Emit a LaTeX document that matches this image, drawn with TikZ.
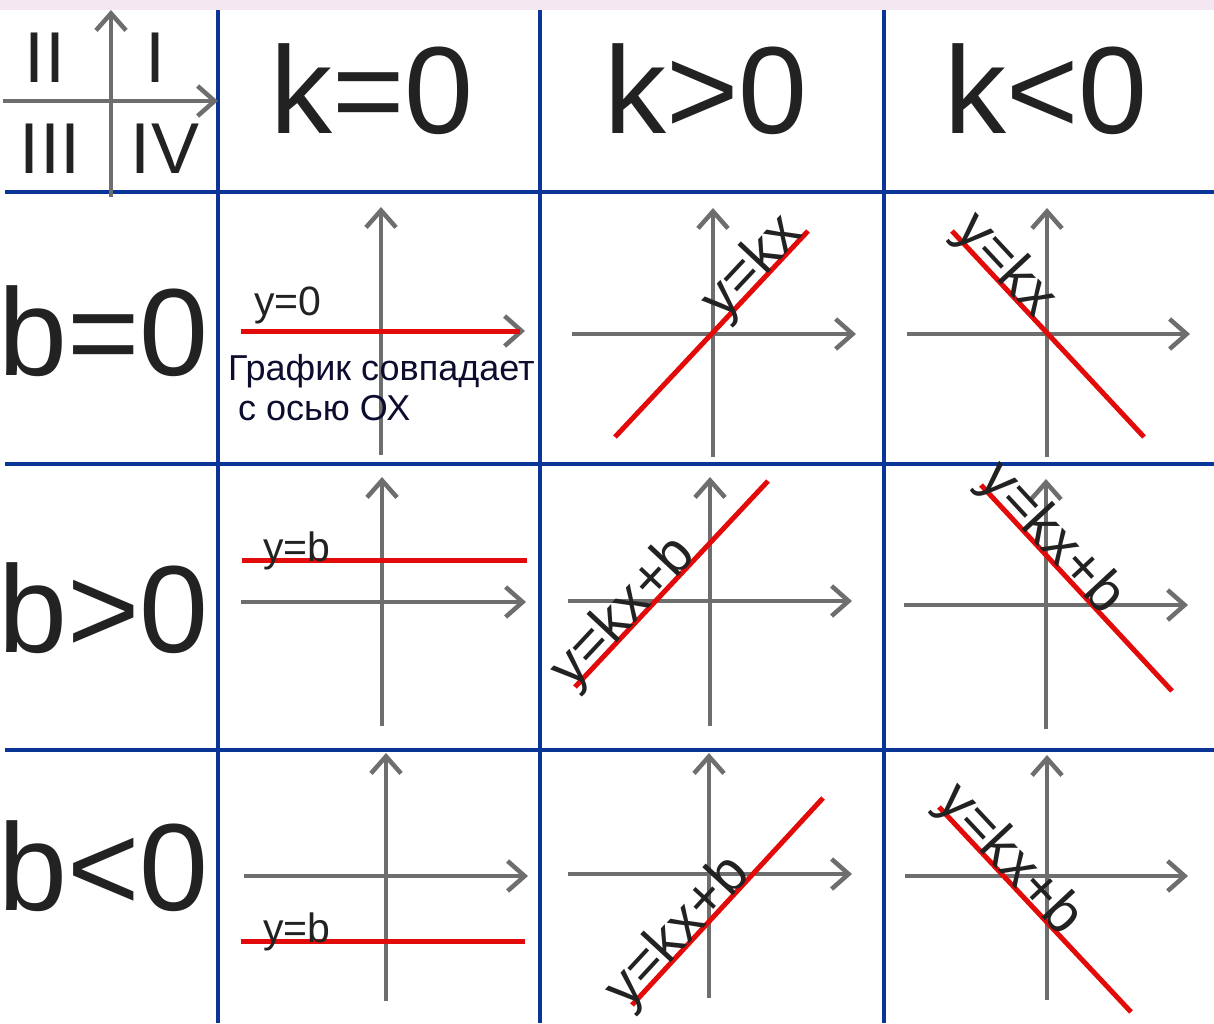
\documentclass[tikz,border=0pt]{standalone}
\usepackage{fontspec}
\setmainfont{Liberation Sans}
\usetikzlibrary{arrows.meta}
\definecolor{ink}{HTML}{222222}
\definecolor{note}{HTML}{0C0C2E}
\definecolor{grid}{HTML}{0A3597}
\definecolor{axis}{HTML}{6E6E6E}
\definecolor{graph}{HTML}{E30A0A}
\definecolor{haze}{HTML}{F4E7F2}
\tikzset{
  every node/.style = {text=ink, inner sep=0pt},
  kbgrid/.style  = {draw=grid, line width=3.5pt},
  kbaxis/.style  = {draw=axis, line width=4pt,
                    -{Straight Barb[length=17pt,width=30pt,line width=4.5pt]}},
  kbline/.style  = {draw=graph, line width=5pt},
  kbhead/.style  = {font=\fontsize{124}{124}\selectfont, anchor=base},
  kbrow/.style   = {font=\fontsize{124}{124}\selectfont, anchor=base west},
  kbquad/.style  = {font=\fontsize{72}{72}\selectfont, anchor=base},
  kbeq/.style    = {font=\fontsize{41}{41}\selectfont, anchor=base west},
  kbslope/.style = {font=\fontsize{57}{57}\selectfont, anchor=base, sloped},
  kbnote/.style  = {font=\fontsize{36}{40}\selectfont, text=note, anchor=base west},
}
% axes of one cell: origin x, origin y, left, right, top, bottom
\newcommand{\kbcross}[6]{%
  \draw[kbaxis] (#3,#2) -- (#4,#2);
  \draw[kbaxis] (#1,#6) -- (#1,#5);}

\begin{document}
\begin{tikzpicture}[x=1pt, y=-1pt]
\useasboundingbox (0,0) rectangle (1214,1023);
\fill[haze] (0,0) rectangle (1214,10);

% table lines
\draw[kbgrid] (218,10) -- (218,1023);
\draw[kbgrid] (540,10) -- (540,1023);
\draw[kbgrid] (884,10) -- (884,1023);
\draw[kbgrid] (5,192) -- (1214,192);
\draw[kbgrid] (5,464) -- (1214,464);
\draw[kbgrid] (5,750) -- (1214,750);

% quadrants
\draw[kbaxis] (3,101) -- (218,101);
\draw[kbaxis] (111,197) -- (111,10);
\node[kbquad] (q2) at (45,82) {II};
\node[kbquad] (q1) at (155,82) {I};
\node[kbquad] (q3) at (50,173) {III};
\node[kbquad] (q4) at (165,173) {IV};

% headers
\node[kbhead] (kzero) at (372,133) {k=0};
\node[kbhead] (kpos)  at (706,133) {k>0};
\node[kbhead] (kneg)  at (1046,133) {k<0};
\node[kbrow] (bzero) at (-2,375) {b=0};
\node[kbrow] (bpos)  at (-2,652) {b>0};
\node[kbrow] (bneg)  at (-2,910) {b<0};

% b=0
\kbcross{381}{331}{241}{525}{207}{455}
\kbcross{713}{334}{572}{856}{208}{457}
\kbcross{1047}{334}{907}{1190}{208}{457}
\draw[kbline] (241,331) -- (520,331);
\node[kbeq] (yzero) at (254,315) {y=0};
\node[kbnote] (note1) at (228,380) {График совпадает};
\node[kbnote] (note2) at (238,420) {с осью ОХ};
\draw[kbline] (615,437) -- (808,231) node[kbslope, pos=0.77] (lab1) {y=kx};
\draw[kbline] (952,231) -- (1144,437) node[kbslope, pos=0.22] (lab2) {y=kx};

% b>0
\kbcross{382}{602}{241}{526}{477}{726}
\kbcross{710}{601}{568}{852}{477}{726}
\kbcross{1046}{605}{904}{1188}{479}{729}
\draw[kbline] (242,560) -- (527,560);
\node[kbeq] (ybpos) at (263,561) {y=b};
\draw[kbline] (575,687) -- (768,481) node[kbslope, pos=0.31] (lab3) {y=kx+b};
\draw[kbline] (981,485) -- (1172,691) node[kbslope, pos=0.31] (lab4) {y=kx+b};

% b<0
\kbcross{386}{876}{244}{528}{753}{1001}
\kbcross{709}{874}{568}{852}{753}{998}
\kbcross{1047}{876}{905}{1188}{755}{1000}
\draw[kbline] (241,941) -- (525,941);
\node[kbeq] (ybneg) at (263,942) {y=b};
\draw[kbline] (632,1005) -- (823,798) node[kbslope, pos=0.30] (lab5) {y=kx+b};
\draw[kbline] (939,807) -- (1131,1012) node[kbslope, pos=0.31] (lab6) {y=kx+b};
\end{tikzpicture}
\end{document}
